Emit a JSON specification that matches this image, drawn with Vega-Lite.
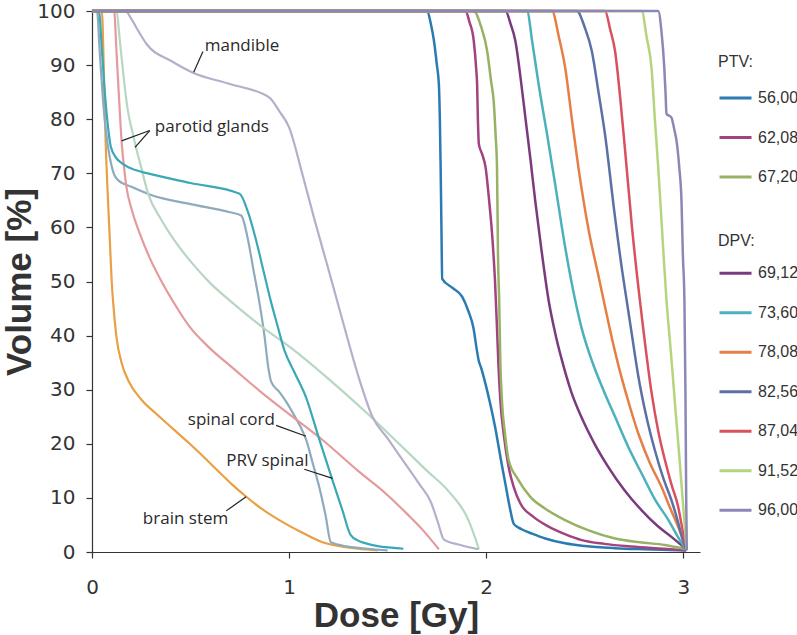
{
"$schema":"https://vega.github.io/schema/vega-lite/v6.json",
"width":608,"height":541,
"autosize":{"type":"none"},
"padding":{"left":92,"top":11,"right":97,"bottom":83},
"background":"white",
"config":{
"view":{"stroke":null},
"axis":{"grid":false,"domainColor":"#333","tickColor":"#333","labelColor":"#333","titleColor":"#333","labelFont":"DejaVu Sans","labelFontSize":20,"titleFont":"Liberation Sans","titleFontSize":35,"titleFontWeight":"bold","tickSize":6,"domainWidth":1.2,"tickWidth":1.2,"labelFlush":false,"labelOverlap":false},
"axisX":{"labelPadding":19,"titlePadding":1},
"axisY":{"labelPadding":11,"titlePadding":-1},
"legend":{"symbolType":"stroke","symbolSize":1024,"symbolStrokeWidth":3,"labelFont":"Liberation Sans","labelFontSize":16,"titleFont":"Liberation Sans","titleFontSize":16,"titleFontWeight":"normal","labelColor":"#333","titleColor":"#333","labelOffset":5,"padding":0,"rowPadding":13.5}
},
"datasets":{
"ptv":[
{"s":"56,00","d":0,"v":100},{"s":"56,00","d":1.70,"v":100},{"s":"56,00","d":1.72,"v":97.5},{"s":"56,00","d":1.735,"v":94.5},{"s":"56,00","d":1.75,"v":90},{"s":"56,00","d":1.76,"v":86.5},{"s":"56,00","d":1.765,"v":80},{"s":"56,00","d":1.769,"v":71.1},{"s":"56,00","d":1.773,"v":60},{"s":"56,00","d":1.777,"v":50.5},{"s":"56,00","d":1.83,"v":48.8},{"s":"56,00","d":1.878,"v":47.2},{"s":"56,00","d":1.91,"v":44.5},{"s":"56,00","d":1.935,"v":41.5},{"s":"56,00","d":1.952,"v":37.5},{"s":"56,00","d":1.962,"v":35.4},{"s":"56,00","d":1.975,"v":34},{"s":"56,00","d":1.99,"v":32},{"s":"56,00","d":2.02,"v":27.5},{"s":"56,00","d":2.047,"v":22.8},{"s":"56,00","d":2.075,"v":17},{"s":"56,00","d":2.098,"v":12.5},{"s":"56,00","d":2.12,"v":8.2},{"s":"56,00","d":2.14,"v":5.2},{"s":"56,00","d":2.18,"v":4.2},{"s":"56,00","d":2.233,"v":3.4},{"s":"56,00","d":2.3,"v":2.5},{"s":"56,00","d":2.4,"v":1.6},{"s":"56,00","d":2.5,"v":1.1},{"s":"56,00","d":2.654,"v":0.7},{"s":"56,00","d":2.8,"v":0.5},{"s":"56,00","d":3.015,"v":0.3},
{"s":"62,08","d":0,"v":100},{"s":"62,08","d":1.895,"v":100},{"s":"62,08","d":1.915,"v":98},{"s":"62,08","d":1.937,"v":94.5},{"s":"62,08","d":1.95,"v":89},{"s":"62,08","d":1.954,"v":86.5},{"s":"62,08","d":1.958,"v":80},{"s":"62,08","d":1.963,"v":75.4},{"s":"62,08","d":1.98,"v":73.5},{"s":"62,08","d":1.997,"v":71.1},{"s":"62,08","d":2.015,"v":65},{"s":"62,08","d":2.03,"v":58.8},{"s":"62,08","d":2.045,"v":50},{"s":"62,08","d":2.055,"v":41.3},{"s":"62,08","d":2.063,"v":34},{"s":"62,08","d":2.072,"v":28},{"s":"62,08","d":2.09,"v":21.5},{"s":"62,08","d":2.114,"v":15.7},{"s":"62,08","d":2.14,"v":12},{"s":"62,08","d":2.173,"v":9},{"s":"62,08","d":2.24,"v":6.5},{"s":"62,08","d":2.317,"v":4.7},{"s":"62,08","d":2.4,"v":3.3},{"s":"62,08","d":2.485,"v":2.2},{"s":"62,08","d":2.6,"v":1.5},{"s":"62,08","d":2.738,"v":1.0},{"s":"62,08","d":2.9,"v":0.6},{"s":"62,08","d":3.015,"v":0.3},
{"s":"67,20","d":0,"v":100},{"s":"67,20","d":1.937,"v":100},{"s":"67,20","d":1.975,"v":97},{"s":"67,20","d":2.005,"v":92.6},{"s":"67,20","d":2.025,"v":87},{"s":"67,20","d":2.038,"v":83.4},{"s":"67,20","d":2.048,"v":77},{"s":"67,20","d":2.055,"v":71.1},{"s":"67,20","d":2.06,"v":55},{"s":"67,20","d":2.066,"v":46.5},{"s":"67,20","d":2.072,"v":35},{"s":"67,20","d":2.08,"v":28},{"s":"67,20","d":2.095,"v":22},{"s":"67,20","d":2.114,"v":17},{"s":"67,20","d":2.16,"v":13.5},{"s":"67,20","d":2.224,"v":10.2},{"s":"67,20","d":2.3,"v":8},{"s":"67,20","d":2.4,"v":5.9},{"s":"67,20","d":2.52,"v":4},{"s":"67,20","d":2.654,"v":2.5},{"s":"67,20","d":2.78,"v":1.8},{"s":"67,20","d":2.907,"v":1.3},{"s":"67,20","d":3.015,"v":0.5}
],
"dpv":[
{"s":"69,12","d":0,"v":100},{"s":"69,12","d":2.098,"v":100},{"s":"69,12","d":2.125,"v":97.5},{"s":"69,12","d":2.148,"v":94.5},{"s":"69,12","d":2.175,"v":87.5},{"s":"69,12","d":2.199,"v":80.3},{"s":"69,12","d":2.225,"v":72.5},{"s":"69,12","d":2.249,"v":64.9},{"s":"69,12","d":2.28,"v":56},{"s":"69,12","d":2.317,"v":46.5},{"s":"69,12","d":2.35,"v":40.5},{"s":"69,12","d":2.384,"v":35.5},{"s":"69,12","d":2.43,"v":29.8},{"s":"69,12","d":2.485,"v":24.8},{"s":"69,12","d":2.55,"v":20},{"s":"69,12","d":2.62,"v":15.7},{"s":"69,12","d":2.7,"v":11.5},{"s":"69,12","d":2.789,"v":7.7},{"s":"69,12","d":2.87,"v":4.8},{"s":"69,12","d":2.94,"v":2.8},{"s":"69,12","d":3.015,"v":0.5},
{"s":"73,60","d":0,"v":100},{"s":"73,60","d":2.207,"v":100},{"s":"73,60","d":2.235,"v":94},{"s":"73,60","d":2.266,"v":86.5},{"s":"73,60","d":2.31,"v":77},{"s":"73,60","d":2.35,"v":68},{"s":"73,60","d":2.4,"v":56.5},{"s":"73,60","d":2.452,"v":46.5},{"s":"73,60","d":2.485,"v":41.3},{"s":"73,60","d":2.536,"v":35.4},{"s":"73,60","d":2.6,"v":29.5},{"s":"73,60","d":2.654,"v":25},{"s":"73,60","d":2.72,"v":19.5},{"s":"73,60","d":2.789,"v":14.5},{"s":"73,60","d":2.86,"v":9.5},{"s":"73,60","d":2.925,"v":5.9},{"s":"73,60","d":2.97,"v":3},{"s":"73,60","d":3.015,"v":0.3},
{"s":"78,08","d":0,"v":100},{"s":"78,08","d":2.334,"v":100},{"s":"78,08","d":2.37,"v":95},{"s":"78,08","d":2.401,"v":89.5},{"s":"78,08","d":2.435,"v":80},{"s":"78,08","d":2.468,"v":71.1},{"s":"78,08","d":2.52,"v":59.5},{"s":"78,08","d":2.57,"v":51},{"s":"78,08","d":2.605,"v":45},{"s":"78,08","d":2.64,"v":39.2},{"s":"78,08","d":2.671,"v":34.5},{"s":"78,08","d":2.72,"v":28},{"s":"78,08","d":2.772,"v":21.9},{"s":"78,08","d":2.83,"v":16.5},{"s":"78,08","d":2.89,"v":12},{"s":"78,08","d":2.935,"v":8},{"s":"78,08","d":2.974,"v":4.7},{"s":"78,08","d":3.015,"v":0.5},
{"s":"82,56","d":0,"v":100},{"s":"82,56","d":2.46,"v":100},{"s":"82,56","d":2.5,"v":97},{"s":"82,56","d":2.536,"v":92.6},{"s":"82,56","d":2.57,"v":85},{"s":"82,56","d":2.603,"v":77.2},{"s":"82,56","d":2.65,"v":63},{"s":"82,56","d":2.69,"v":52},{"s":"82,56","d":2.713,"v":46.5},{"s":"82,56","d":2.738,"v":40.5},{"s":"82,56","d":2.772,"v":32.5},{"s":"82,56","d":2.81,"v":25.5},{"s":"82,56","d":2.856,"v":18.8},{"s":"82,56","d":2.9,"v":13.5},{"s":"82,56","d":2.94,"v":9.6},{"s":"82,56","d":2.97,"v":6},{"s":"82,56","d":2.998,"v":2.2},{"s":"82,56","d":3.017,"v":0.3},
{"s":"87,04","d":0,"v":100},{"s":"87,04","d":2.603,"v":100},{"s":"87,04","d":2.63,"v":96.5},{"s":"87,04","d":2.654,"v":92.6},{"s":"87,04","d":2.68,"v":84},{"s":"87,04","d":2.705,"v":74.2},{"s":"87,04","d":2.74,"v":60},{"s":"87,04","d":2.78,"v":46.5},{"s":"87,04","d":2.797,"v":41.3},{"s":"87,04","d":2.839,"v":29.5},{"s":"87,04","d":2.875,"v":22},{"s":"87,04","d":2.907,"v":17},{"s":"87,04","d":2.94,"v":12.5},{"s":"87,04","d":2.974,"v":8.4},{"s":"87,04","d":2.997,"v":4},{"s":"87,04","d":3.017,"v":0.5},
{"s":"91,52","d":0,"v":100},{"s":"91,52","d":2.789,"v":100},{"s":"91,52","d":2.815,"v":95},{"s":"91,52","d":2.839,"v":89.5},{"s":"91,52","d":2.856,"v":80},{"s":"91,52","d":2.873,"v":71.1},{"s":"91,52","d":2.9,"v":55},{"s":"91,52","d":2.915,"v":46.5},{"s":"91,52","d":2.93,"v":40},{"s":"91,52","d":2.945,"v":33.5},{"s":"91,52","d":2.96,"v":26.5},{"s":"91,52","d":2.975,"v":20},{"s":"91,52","d":2.99,"v":13},{"s":"91,52","d":3.003,"v":7},{"s":"91,52","d":3.017,"v":0.5},
{"s":"96,00","d":0,"v":100},{"s":"96,00","d":2.873,"v":100},{"s":"96,00","d":2.89,"v":96},{"s":"96,00","d":2.903,"v":90},{"s":"96,00","d":2.91,"v":85},{"s":"96,00","d":2.915,"v":81},{"s":"96,00","d":2.94,"v":80.3},{"s":"96,00","d":2.955,"v":78},{"s":"96,00","d":2.966,"v":76},{"s":"96,00","d":2.98,"v":71},{"s":"96,00","d":2.991,"v":65},{"s":"96,00","d":2.998,"v":55},{"s":"96,00","d":3.006,"v":46.5},{"s":"96,00","d":3.011,"v":30},{"s":"96,00","d":3.015,"v":10},{"s":"96,00","d":3.018,"v":0.3}
],
"organs":[
{"s":"brain stem","d":0,"v":100},{"s":"brain stem","d":0.05,"v":100},{"s":"brain stem","d":0.058,"v":92},{"s":"brain stem","d":0.063,"v":84},{"s":"brain stem","d":0.07,"v":75},{"s":"brain stem","d":0.08,"v":66},{"s":"brain stem","d":0.09,"v":58},{"s":"brain stem","d":0.1,"v":50},{"s":"brain stem","d":0.11,"v":45},{"s":"brain stem","d":0.125,"v":39.5},{"s":"brain stem","d":0.15,"v":35},{"s":"brain stem","d":0.184,"v":31.7},{"s":"brain stem","d":0.25,"v":28.2},{"s":"brain stem","d":0.327,"v":25.5},{"s":"brain stem","d":0.41,"v":22.8},{"s":"brain stem","d":0.496,"v":20},{"s":"brain stem","d":0.58,"v":17.1},{"s":"brain stem","d":0.647,"v":14.7},{"s":"brain stem","d":0.71,"v":12.5},{"s":"brain stem","d":0.78,"v":10.3},{"s":"brain stem","d":0.86,"v":8},{"s":"brain stem","d":0.95,"v":5.9},{"s":"brain stem","d":1.05,"v":3.9},{"s":"brain stem","d":1.17,"v":1.8},{"s":"brain stem","d":1.27,"v":1.0},{"s":"brain stem","d":1.35,"v":0.6},{"s":"brain stem","d":1.45,"v":0.3},
{"s":"spinal cord","d":0,"v":100},{"s":"spinal cord","d":0.025,"v":100},{"s":"spinal cord","d":0.04,"v":92},{"s":"spinal cord","d":0.055,"v":84},{"s":"spinal cord","d":0.07,"v":78},{"s":"spinal cord","d":0.09,"v":73},{"s":"spinal cord","d":0.11,"v":70},{"s":"spinal cord","d":0.13,"v":68.8},{"s":"spinal cord","d":0.2,"v":67.5},{"s":"spinal cord","d":0.3,"v":66},{"s":"spinal cord","d":0.5,"v":64.3},{"s":"spinal cord","d":0.7,"v":62.8},{"s":"spinal cord","d":0.757,"v":62.2},{"s":"spinal cord","d":0.79,"v":58},{"s":"spinal cord","d":0.82,"v":52},{"s":"spinal cord","d":0.85,"v":46},{"s":"spinal cord","d":0.875,"v":40},{"s":"spinal cord","d":0.895,"v":34},{"s":"spinal cord","d":0.909,"v":31.5},{"s":"spinal cord","d":0.95,"v":29.6},{"s":"spinal cord","d":0.985,"v":27.8},{"s":"spinal cord","d":1.03,"v":25},{"s":"spinal cord","d":1.06,"v":23},{"s":"spinal cord","d":1.086,"v":20.8},{"s":"spinal cord","d":1.12,"v":16.4},{"s":"spinal cord","d":1.153,"v":12},{"s":"spinal cord","d":1.185,"v":6.8},{"s":"spinal cord","d":1.212,"v":1.8},{"s":"spinal cord","d":1.3,"v":1.0},{"s":"spinal cord","d":1.4,"v":0.6},{"s":"spinal cord","d":1.5,"v":0.3},
{"s":"parotid L","d":0,"v":100},{"s":"parotid L","d":0.112,"v":100},{"s":"parotid L","d":0.125,"v":92},{"s":"parotid L","d":0.137,"v":84},{"s":"parotid L","d":0.15,"v":76},{"s":"parotid L","d":0.163,"v":71},{"s":"parotid L","d":0.175,"v":67.4},{"s":"parotid L","d":0.2,"v":63.5},{"s":"parotid L","d":0.243,"v":58.8},{"s":"parotid L","d":0.29,"v":54.6},{"s":"parotid L","d":0.344,"v":50.6},{"s":"parotid L","d":0.42,"v":45.8},{"s":"parotid L","d":0.496,"v":41.6},{"s":"parotid L","d":0.6,"v":37.6},{"s":"parotid L","d":0.715,"v":34},{"s":"parotid L","d":0.85,"v":29.8},{"s":"parotid L","d":1.0,"v":25.5},{"s":"parotid L","d":1.17,"v":20.7},{"s":"parotid L","d":1.35,"v":15},{"s":"parotid L","d":1.5,"v":10.5},{"s":"parotid L","d":1.6,"v":7},{"s":"parotid L","d":1.68,"v":4},{"s":"parotid L","d":1.76,"v":0.5},
{"s":"parotid R","d":0,"v":100},{"s":"parotid R","d":0.125,"v":100},{"s":"parotid R","d":0.14,"v":95},{"s":"parotid R","d":0.16,"v":88},{"s":"parotid R","d":0.18,"v":82},{"s":"parotid R","d":0.209,"v":77},{"s":"parotid R","d":0.25,"v":71},{"s":"parotid R","d":0.285,"v":66.2},{"s":"parotid R","d":0.35,"v":61.5},{"s":"parotid R","d":0.42,"v":57.5},{"s":"parotid R","d":0.496,"v":53.9},{"s":"parotid R","d":0.6,"v":49.7},{"s":"parotid R","d":0.698,"v":46.5},{"s":"parotid R","d":0.875,"v":41.3},{"s":"parotid R","d":1.0,"v":38},{"s":"parotid R","d":1.2,"v":32},{"s":"parotid R","d":1.4,"v":25.5},{"s":"parotid R","d":1.558,"v":20},{"s":"parotid R","d":1.7,"v":15},{"s":"parotid R","d":1.81,"v":11.2},{"s":"parotid R","d":1.91,"v":5.9},{"s":"parotid R","d":1.945,"v":2.5},{"s":"parotid R","d":1.963,"v":0.5},
{"s":"mandible","d":0,"v":100},{"s":"mandible","d":0.17,"v":100},{"s":"mandible","d":0.2,"v":98.5},{"s":"mandible","d":0.24,"v":96},{"s":"mandible","d":0.277,"v":93.9},{"s":"mandible","d":0.4,"v":90.8},{"s":"mandible","d":0.512,"v":88.6},{"s":"mandible","d":0.7,"v":86.5},{"s":"mandible","d":0.9,"v":84},{"s":"mandible","d":0.95,"v":81.5},{"s":"mandible","d":1.0,"v":78.5},{"s":"mandible","d":1.07,"v":69.5},{"s":"mandible","d":1.13,"v":61.3},{"s":"mandible","d":1.19,"v":53.5},{"s":"mandible","d":1.238,"v":47.2},{"s":"mandible","d":1.3,"v":39},{"s":"mandible","d":1.36,"v":31.5},{"s":"mandible","d":1.423,"v":25},{"s":"mandible","d":1.5,"v":21},{"s":"mandible","d":1.58,"v":16.8},{"s":"mandible","d":1.66,"v":12.6},{"s":"mandible","d":1.72,"v":9.2},{"s":"mandible","d":1.755,"v":5.5},{"s":"mandible","d":1.786,"v":2.3},{"s":"mandible","d":1.87,"v":1.3},{"s":"mandible","d":1.96,"v":0.5},
{"s":"PRV spinal","d":0,"v":100},{"s":"PRV spinal","d":0.035,"v":100},{"s":"PRV spinal","d":0.05,"v":93},{"s":"PRV spinal","d":0.065,"v":85},{"s":"PRV spinal","d":0.08,"v":79},{"s":"PRV spinal","d":0.095,"v":75},{"s":"PRV spinal","d":0.12,"v":73},{"s":"PRV spinal","d":0.158,"v":71.7},{"s":"PRV spinal","d":0.22,"v":70.6},{"s":"PRV spinal","d":0.293,"v":69.9},{"s":"PRV spinal","d":0.5,"v":68.2},{"s":"PRV spinal","d":0.749,"v":66.2},{"s":"PRV spinal","d":0.79,"v":63},{"s":"PRV spinal","d":0.83,"v":58},{"s":"PRV spinal","d":0.87,"v":52},{"s":"PRV spinal","d":0.91,"v":46},{"s":"PRV spinal","d":0.94,"v":42},{"s":"PRV spinal","d":0.976,"v":37.3},{"s":"PRV spinal","d":1.03,"v":33},{"s":"PRV spinal","d":1.086,"v":28.6},{"s":"PRV spinal","d":1.15,"v":21.2},{"s":"PRV spinal","d":1.22,"v":13.3},{"s":"PRV spinal","d":1.27,"v":7.8},{"s":"PRV spinal","d":1.313,"v":3.1},{"s":"PRV spinal","d":1.35,"v":2.1},{"s":"PRV spinal","d":1.39,"v":1.6},{"s":"PRV spinal","d":1.45,"v":1.1},{"s":"PRV spinal","d":1.52,"v":0.8},{"s":"PRV spinal","d":1.58,"v":0.6}
],
"labels":[
{"t":"mandible","d":0.572,"v":93.5},{"t":"parotid glands","d":0.319,"v":78.6},{"t":"spinal cord","d":0.486,"v":24.4},{"t":"PRV spinal","d":0.681,"v":16.8},{"t":"brain stem","d":0.258,"v":6.1}
],
"leaders":[
{"d":0.563,"v":92.5,"d2":0.516,"v2":88.7},{"d":0.293,"v":77.9,"d2":0.150,"v2":76.0},{"d":0.293,"v":77.9,"d2":0.218,"v2":74.8},{"d":0.934,"v":23.4,"d2":1.086,"v2":21.4},{"d":1.077,"v":15.3,"d2":1.221,"v2":13.6},{"d":0.681,"v":7.6,"d2":0.782,"v2":10.2}
]
},
"layer":[
{"data":{"name":"organs"},
"mark":{"type":"line","strokeWidth":2.2,"strokeJoin":"round","interpolate":"monotone"},
"encoding":{
"x":{"field":"d","type":"quantitative","scale":{"domain":[0,3.085],"nice":false,"zero":false},"axis":{"values":[0,1,2,3],"format":"d"},"title":"Dose [Gy]"},
"y":{"field":"v","type":"quantitative","scale":{"domain":[0,100],"nice":false},"axis":{"values":[0,10,20,30,40,50,60,70,80,90,100],"format":"d"},"title":"Volume [%]"},
"color":{"field":"s","type":"nominal","scale":{"domain":["brain stem","spinal cord","parotid L","parotid R","mandible","PRV spinal"],"range":["#e9a044","#8eabbd","#e59a9c","#b7d7c1","#b4afca","#3aa8b6"]},"legend":null}
}},
{"data":{"name":"ptv"},
"mark":{"type":"line","strokeWidth":2.5,"strokeJoin":"round","interpolate":"monotone"},
"encoding":{
"x":{"field":"d","type":"quantitative","title":"Dose [Gy]"},
"y":{"field":"v","type":"quantitative","title":"Volume [%]"},
"color":{"field":"s","type":"nominal","scale":{"domain":["56,00","62,08","67,20"],"range":["#2b7bb3","#a2437f","#97b165"]},"legend":{"title":"PTV:","orient":"none","legendX":626,"legendY":43,"titlePadding":10.5}}
}},
{"data":{"name":"dpv"},
"mark":{"type":"line","strokeWidth":2.5,"strokeJoin":"round","interpolate":"monotone"},
"encoding":{
"x":{"field":"d","type":"quantitative","title":"Dose [Gy]"},
"y":{"field":"v","type":"quantitative","title":"Volume [%]"},
"color":{"field":"s","type":"nominal","scale":{"domain":["69,12","73,60","78,08","82,56","87,04","91,52","96,00"],"range":["#7a3b7e","#4cb0bd","#e57f45","#5b70a5","#d9505f","#b5d57c","#8c88b6"]},"legend":{"title":"DPV:","orient":"none","legendX":626,"legendY":222,"titlePadding":6.8}}
}},
{"data":{"name":"leaders"},
"mark":{"type":"rule","color":"#222","strokeWidth":1.2},
"encoding":{
"x":{"field":"d","type":"quantitative","title":"Dose [Gy]"},
"y":{"field":"v","type":"quantitative","title":"Volume [%]"},
"x2":{"field":"d2"},
"y2":{"field":"v2"}
}},
{"data":{"name":"labels"},
"mark":{"type":"text","align":"left","baseline":"middle","font":"Open Sans","fontSize":17,"fill":"#2a2a2a"},
"encoding":{
"x":{"field":"d","type":"quantitative","title":"Dose [Gy]"},
"y":{"field":"v","type":"quantitative","title":"Volume [%]"},
"text":{"field":"t"}
}}
],
"resolve":{"scale":{"color":"independent"},"legend":{"color":"independent"}}
}
